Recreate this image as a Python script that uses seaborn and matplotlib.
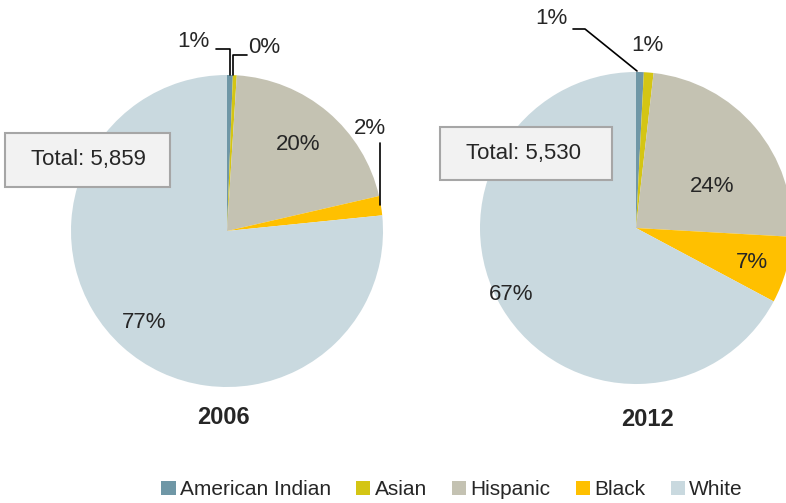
import matplotlib
matplotlib.use("Agg")
import matplotlib.pyplot as plt
from matplotlib import font_manager
from matplotlib.patches import Rectangle
import seaborn as sns

# data
groups = ["American Indian", "Asian", "Hispanic", "Black", "White"]
share_2006 = [0.6, 0.4, 20.4, 2.0, 76.6]
share_2012 = [0.8, 1.0, 24.1, 6.9, 67.2]
total_2006 = "5,859"
total_2012 = "5,530"
years = ["2006", "2012"]
colors = ["#6f97a6", "#d4c514", "#c4c2b2", "#ffc000", "#c9d9df"]

sns.set_style("white")
names = {f.name for f in font_manager.fontManager.ttflist}
font = "Liberation Sans Narrow" if "Liberation Sans Narrow" in names else "Liberation Sans"
plt.rcParams["font.family"] = [font, "DejaVu Sans"]

W, H = 786, 503
fig = plt.figure(figsize=(W / 100, H / 100), dpi=100)
ax = fig.add_axes([0, 0, 1, 1])

# pies in pixel coords (y axis flipped, so counterclock=True draws clockwise on screen)
wedges, _ = ax.pie(share_2006, colors=colors, startangle=-90, counterclock=True,
                   center=(227, 231), radius=156, wedgeprops=dict(linewidth=0))
ax.pie(share_2012, colors=colors, startangle=-90, counterclock=True,
       center=(636, 228), radius=156, wedgeprops=dict(linewidth=0))
ax.set_xlim(0, W)
ax.set_ylim(H, 0)
ax.set_aspect("auto")
ax.axis("off")

pct = lambda v: f"{round(v)}%"
fs = 16

# 2006 labels
ax.plot([230, 230, 216], [75, 49, 49], color="black", lw=1.2)
ax.text(193, 41, pct(share_2006[0]), ha="center", va="center", fontsize=fs)
ax.plot([233, 233, 247], [75, 55, 55], color="black", lw=1.2)
ax.text(248, 47, pct(share_2006[1]), ha="left", va="center", fontsize=fs)
ax.text(298, 145, pct(share_2006[2]), ha="center", va="center", fontsize=fs)
ax.plot([380, 380], [143, 205], color="black", lw=1.2)
ax.text(370, 128, pct(share_2006[3]), ha="center", va="center", fontsize=fs)
ax.text(144, 322, pct(share_2006[4]), ha="center", va="center", fontsize=fs)

# 2012 labels
ax.plot([573, 585, 637], [29, 29, 71], color="black", lw=1.2)
ax.text(551, 18, pct(share_2012[0]), ha="center", va="center", fontsize=fs)
ax.text(647, 45, pct(share_2012[1]), ha="center", va="center", fontsize=fs)
ax.text(712, 187, pct(share_2012[2]), ha="center", va="center", fontsize=fs)
ax.text(752, 262, pct(share_2012[3]), ha="center", va="center", fontsize=fs)
ax.text(511, 295, pct(share_2012[4]), ha="center", va="center", fontsize=fs)

# total boxes
for (x0, y0, w, h), tot in [((5, 133, 165, 54), total_2006), ((440, 127, 172, 53), total_2012)]:
    ax.add_patch(Rectangle((x0, y0), w, h, facecolor="#f2f2f2", edgecolor="#a6a6a6",
                           lw=1.5, zorder=5))
    ax.text(x0 + 83, y0 + h / 2, f"Total: {tot}", ha="center", va="center",
            fontsize=fs, zorder=6)

# year captions
ax.text(223, 417, years[0], ha="center", va="center", fontsize=17, fontweight="bold")
ax.text(647, 420, years[1], ha="center", va="center", fontsize=17, fontweight="bold")

fig.legend(wedges, groups, loc="center", bbox_to_anchor=(0.575, 0.026), ncol=5,
           frameon=False, fontsize=15, handlelength=0.7, handleheight=0.7,
           handletextpad=0.2, columnspacing=1.2, borderaxespad=0)

fig.savefig("out.png", dpi=100)
